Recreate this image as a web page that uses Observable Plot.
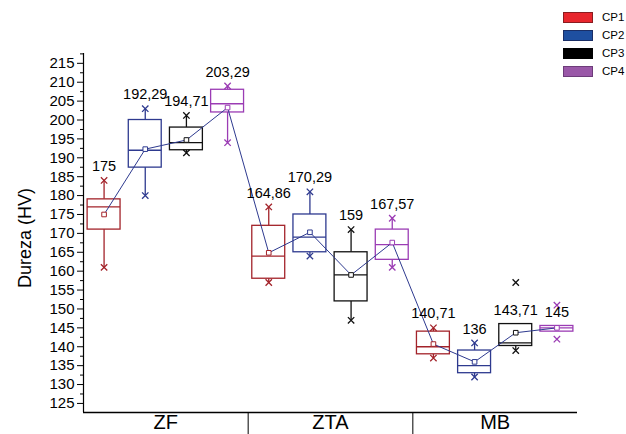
<!DOCTYPE html>
<html><head><meta charset="utf-8">
<script src="https://cdn.jsdelivr.net/npm/d3@7"></script>
<script src="https://cdn.jsdelivr.net/npm/@observablehq/plot@0.6"></script>
<style>
body{margin:0;background:#fff;font-family:Arial,"Liberation Sans",sans-serif;color:#000}
#wrap{position:relative;width:626px;height:434px;overflow:hidden;background:#fff}
#legend{position:absolute;left:563px;top:9px}
.item{display:flex;align-items:center;height:17.8px}
.sw{width:28px;height:9px;border:1px solid #444;margin-right:9px}
.lt{font-size:11.5px;line-height:11px}
#ytitle{position:absolute;left:25px;top:238px;transform:translate(-50%,-50%) rotate(-90deg);font-size:18px;white-space:nowrap}
</style></head><body>
<div id="wrap"><div id="chart"></div><div id="legend"></div><div id="ytitle">Dureza (HV)</div></div>
<script>
// ---- data ----
const groups = ["ZF", "ZTA", "MB"];
const series = ["CP1", "CP2", "CP3", "CP4"];
const seriesStroke = ["#a3232a", "#2e3a8f", "#111111", "#9b3cb4"];
const seriesFill = ["#e8262d", "#1e4fa0", "#000000", "#9a58a8"];
const seriesBorder = ["#8a1c20", "#1a2e66", "#000000", "#6d3c7a"];
// order: ZF CP1..CP4, ZTA CP1..CP4, MB CP1..CP4
const markLow     = [161, 180, 191.3, 194,   157, 164, 147, 161,   137, 132, 139, 142];
const whiskerLow  = [161, 180, 191.3, 194,   157, 164, 147, 161,   137, 132, 139, 144];
const q1          = [171, 187.4, 192, 202,   158, 165, 152, 163,   138, 133, 140.2, 144];
const median      = [177, 192, 194, 204.3,   164, 169, 159, 167,   140, 135, 141, 145];
const q3          = [179, 200, 198, 208,     172, 175, 165, 171,   144, 139, 146, 145.5];
const whiskerHigh = [184, 203, 201.2, 209,   177, 181, 171, 174,   145, 141, 146, 145.5];
const markHigh    = [184, 203, 201.2, 209,   177, 181, 171, 174,   145, 141, 157, 151];
const mean        = [175, 192.29, 194.71, 203.29, 164.86, 170.29, 159, 167.57, 140.71, 136, 143.71, 145];
const yTicks = [125, 130, 135, 140, 145, 150, 155, 160, 165, 170, 175, 180, 185, 190, 195, 200, 205, 210, 215];
const yMinorTicks = [127.5, 132.5, 137.5, 142.5, 147.5, 152.5, 157.5, 162.5, 167.5, 172.5, 177.5, 182.5, 187.5, 192.5, 197.5, 202.5, 207.5, 212.5, 217.5];
const yDomain = [122.6, 217.6];

// ---- table ----
const rows = [];
groups.forEach((g, gi) => series.forEach((s, si) => {
  const i = gi * series.length + si;
  rows.push({
    g, s, i, c: i + 0.5, x1: i + 0.1, x2: i + 0.9,
    stroke: seriesStroke[si],
    markLow: markLow[i], whiskerLow: whiskerLow[i], q1: q1[i], median: median[i],
    q3: q3[i], whiskerHigh: whiskerHigh[i], markHigh: markHigh[i], mean: mean[i],
    label: String(mean[i]).replace(".", ",")
  });
}));
const nSlots = groups.length * series.length;
const groupCenters = groups.map((g, gi) => gi * series.length + series.length / 2);
const groupBounds = groups.slice(1).map((g, gi) => (gi + 1) * series.length);

const chart = Plot.plot({
  width: 626, height: 434,
  marginLeft: 83, marginRight: 49, marginTop: 53, marginBottom: 22,
  style: {fontFamily: "Arial, 'Liberation Sans', sans-serif", background: "#fff", color: "#000"},
  x: {domain: [0, nSlots], axis: null},
  y: {domain: yDomain, axis: null},
  color: {type: "identity"},
  marks: [
    Plot.axisY({ticks: yTicks, tickSize: 6, tickPadding: 3, fontSize: 15, label: null, tickFormat: d => String(d)}),
    Plot.axisY({ticks: yMinorTicks, tickSize: 3, label: null, tickFormat: () => ""}),
    Plot.axisX({ticks: groupBounds, tickSize: 22, label: null, tickFormat: () => ""}),
    Plot.axisX({ticks: groupCenters, tickSize: 0, tickPadding: 2, fontSize: 20, label: null, tickFormat: d => groups[Math.floor(d / series.length)]}),
    Plot.ruleX([0], {stroke: "#000", strokeWidth: 1.2}),
    Plot.ruleY([yDomain[0]], {stroke: "#000", strokeWidth: 1.5}),
    // whiskers
    Plot.ruleX(rows, {x: "c", y1: "q3", y2: "whiskerHigh", stroke: "stroke", strokeWidth: 1.3}),
    Plot.ruleX(rows, {x: "c", y1: "whiskerLow", y2: "q1", stroke: "stroke", strokeWidth: 1.3}),
    // boxes
    Plot.rect(rows, {x1: "x1", x2: "x2", y1: "q1", y2: "q3", stroke: "stroke", fill: "white", strokeWidth: 1.3}),
    Plot.ruleY(rows, {y: "median", x1: "x1", x2: "x2", stroke: "stroke", strokeWidth: 1.3}),
    // markers
    Plot.dot(rows, {x: "c", y: "markHigh", symbol: "times", r: 3, stroke: "stroke", strokeWidth: 1.3}),
    Plot.dot(rows, {x: "c", y: "markLow", symbol: "times", r: 3, stroke: "stroke", strokeWidth: 1.3}),
    // mean line
    Plot.line(rows, {x: "c", y: "mean", stroke: "#2e3a8f", strokeWidth: 1}),
    Plot.dot(rows, {x: "c", y: "mean", symbol: "square", r: 2.6, stroke: "stroke", fill: "white", strokeWidth: 1}),
    // value labels
    Plot.text(rows, {x: "c", y: "whiskerHigh", text: "label", dy: -14, fontSize: 14.5, lineAnchor: "middle", fill: "#000"})
  ]
});
document.getElementById("chart").appendChild(chart);

const legend = document.getElementById("legend");
series.forEach((s, si) => {
  const item = document.createElement("div");
  item.className = "item";
  const sw = document.createElement("div");
  sw.className = "sw";
  sw.style.background = seriesFill[si];
  sw.style.borderColor = seriesBorder[si];
  const t = document.createElement("span");
  t.className = "lt";
  t.textContent = s;
  item.appendChild(sw); item.appendChild(t);
  legend.appendChild(item);
});
</script>
</body></html>
